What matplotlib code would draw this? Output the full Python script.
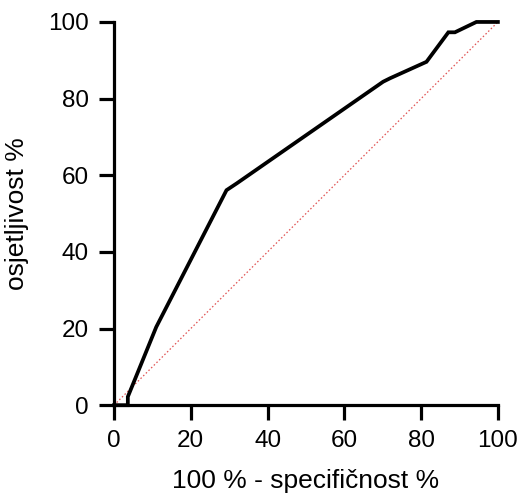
import matplotlib
matplotlib.use("Agg")
import matplotlib.pyplot as plt

# ROC curve points
fpr = [0, 3.6, 3.6, 11, 29.3, 32, 70.1, 71.9, 81.4, 87.1, 88.8, 94.4, 100]
tpr = [0, 0, 2.2, 20.4, 56.1, 57.9, 84.4, 85.3, 89.6, 97.3, 97.3, 100, 100]
ref = [0, 100]
ticks = [0, 20, 40, 60, 80, 100]

plt.rcParams['font.family'] = ['Liberation Sans', 'DejaVu Sans']

fig = plt.figure(figsize=(5.23, 4.99), dpi=100)
ax = fig.add_axes([0.218, 0.188, 0.734, 0.768])

ax.plot(ref, ref, color='#e05050', lw=0.9, ls=(0, (1.2, 1.8)), clip_on=False)
ax.plot(fpr, tpr, color='black', lw=2.7, solid_joinstyle='miter', clip_on=False, zorder=3)

ax.set_xlim(0, 100)
ax.set_ylim(0, 100)
ax.set_xticks(ticks)
ax.set_yticks(ticks)
for s in ['top', 'right']:
    ax.spines[s].set_visible(False)
for s in ['left', 'bottom']:
    ax.spines[s].set_linewidth(2.3)
ax.tick_params(length=11, width=2.3, labelsize=17.5, pad=7)
ax.set_xlabel('100 % - specifičnost %', fontsize=19, labelpad=12)
ax.set_ylabel('osjetljivost %', fontsize=19, labelpad=14)

fig.savefig('out.png', dpi=100)
